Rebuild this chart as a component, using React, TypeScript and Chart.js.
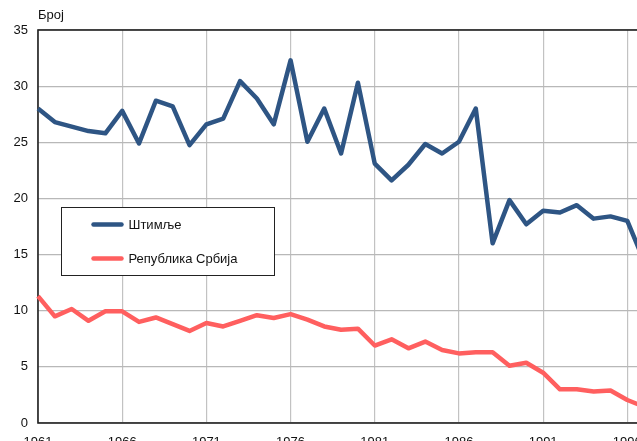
import React, { useEffect, useRef } from "react";
import { Chart, registerables } from "chart.js";

Chart.register(...registerables);

const years: string[] = [
  "1961","1962","1963","1964","1965","1966","1967","1968","1969","1970",
  "1971","1972","1973","1974","1975","1976","1977","1978","1979","1980",
  "1981","1982","1983","1984","1985","1986","1987","1988","1989","1990",
  "1991","1992","1993","1994","1995","1996","1997",
];

const stimlje: number[] = [
  28.0, 26.8, 26.4, 26.0, 25.8, 27.8, 24.9, 28.7, 28.2, 24.75,
  26.6, 27.1, 30.45, 28.9, 26.6, 32.3, 25.05, 28.0, 24.0, 30.3,
  23.1, 21.6, 23.0, 24.85, 24.0, 25.05, 28.0, 16.0, 19.85, 17.7,
  18.9, 18.75, 19.4, 18.2, 18.4, 18.0, 14.4,
];

const srbija: number[] = [
  11.3, 9.5, 10.15, 9.1, 9.95, 9.95, 9.0, 9.4, 8.8, 8.2,
  8.9, 8.6, 9.1, 9.6, 9.35, 9.7, 9.2, 8.6, 8.3, 8.4,
  6.9, 7.45, 6.65, 7.25, 6.5, 6.2, 6.3, 6.3, 5.1, 5.37,
  4.48, 3.0, 3.0, 2.8, 2.9, 2.05, 1.45,
];

const seriesNames: string[] = ["Штимље", "Република Србија"];
const seriesColors: string[] = ["#2E5584", "#FF5F5F"];
const yAxisLabel = "Број";

const FONT = "'Liberation Sans', Arial, sans-serif";

const framePlugin = {
  id: "frameAndLegend",
  beforeDatasetsDraw(chart: any) {
    const { ctx, chartArea } = chart;
    ctx.save();
    ctx.strokeStyle = "#222";
    ctx.lineWidth = 1.6;
    ctx.strokeRect(chartArea.left, chartArea.top, chartArea.right - chartArea.left, chartArea.bottom - chartArea.top);
    ctx.restore();
  },
  afterDraw(chart: any) {
    const { ctx, chartArea } = chart;
    ctx.save();
    ctx.fillStyle = "#111";
    ctx.font = `13px ${FONT}`;
    ctx.textBaseline = "middle";
    ctx.textAlign = "left";
    ctx.fillText(yAxisLabel, chartArea.left, 15);

    const bx = chartArea.left + 23.5;
    const by = chartArea.top + 177.5;
    const bw = 213;
    const bh = 68;
    ctx.fillStyle = "#fff";
    ctx.fillRect(bx, by, bw, bh);
    ctx.strokeStyle = "#222";
    ctx.lineWidth = 1;
    ctx.strokeRect(bx, by, bw, bh);
    chart.data.datasets.forEach((ds: any, i: number) => {
      const y = by + 17 + i * 34;
      ctx.strokeStyle = ds.borderColor;
      ctx.lineWidth = 4.5;
      ctx.lineCap = "round";
      ctx.beginPath();
      ctx.moveTo(bx + 32, y);
      ctx.lineTo(bx + 60, y);
      ctx.stroke();
      ctx.fillStyle = "#111";
      ctx.font = `13px ${FONT}`;
      ctx.textBaseline = "middle";
      ctx.textAlign = "left";
      ctx.fillText(ds.label, bx + 67, y + 0.5);
    });
    ctx.restore();
  },
};

export default function App() {
  const ref = useRef<HTMLCanvasElement | null>(null);

  useEffect(() => {
    if (!ref.current) return;
    const chart = new Chart(ref.current, {
      type: "line",
      data: {
        labels: years,
        datasets: [
          {
            label: seriesNames[0],
            data: stimlje,
            borderColor: seriesColors[0],
            backgroundColor: seriesColors[0],
            borderWidth: 4.5,
            pointRadius: 0,
            tension: 0,
            borderJoinStyle: "round",
          },
          {
            label: seriesNames[1],
            data: srbija,
            borderColor: seriesColors[1],
            backgroundColor: seriesColors[1],
            borderWidth: 4.5,
            pointRadius: 0,
            tension: 0,
            borderJoinStyle: "round",
          },
        ],
      },
      options: {
        responsive: false,
        animation: false,
        devicePixelRatio: 1,
        layout: { padding: { top: 30, left: 0, right: 8, bottom: 0 } },
        plugins: {
          legend: { display: false },
          tooltip: { enabled: false },
          title: { display: false },
        },
        scales: {
          x: {
            type: "category",
            offset: false,
            border: { display: false },
            grid: { color: "#C2C2C2", lineWidth: 1.2, drawTicks: false },
            ticks: {
              autoSkip: false,
              maxRotation: 0,
              padding: 12,
              color: "#111",
              font: { family: FONT, size: 13 },
              callback: (_v: any, i: number) => (i % 5 === 0 ? years[i] : null),
            },
            afterFit: (s: any) => {
              s.height = 18;
            },
          },
          y: {
            min: 0,
            max: 35,
            border: { display: false },
            grid: { color: "#B8B8B8", lineWidth: 1.2, drawTicks: false },
            ticks: {
              stepSize: 5,
              padding: 10,
              color: "#111",
              font: { family: FONT, size: 13 },
            },
            afterFit: (s: any) => {
              s.width = 38;
            },
          },
        },
      },
      plugins: [framePlugin],
    });
    return () => chart.destroy();
  }, []);

  return (
    <div
      style={{
        position: "fixed",
        left: 0,
        top: 0,
        width: 637,
        height: 441,
        overflow: "hidden",
        background: "#fff",
      }}
    >
      <canvas ref={ref} width={654} height={441} style={{ display: "block", width: 654, height: 441 }} />
    </div>
  );
}
